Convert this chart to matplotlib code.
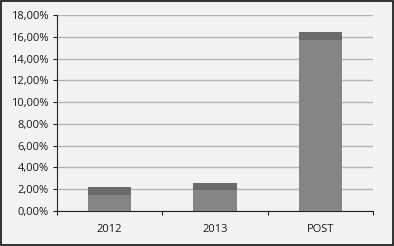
import matplotlib
matplotlib.use("Agg")
import matplotlib.pyplot as plt
from matplotlib.patches import Rectangle
from matplotlib.ticker import FuncFormatter

categories = ["2012", "2013", "POST"]
values = [2.2, 2.6, 16.4]
yticks = [0, 2, 4, 6, 8, 10, 12, 14, 16, 18]

plt.rcParams['font.family'] = ['Open Sans', 'DejaVu Sans']

fig = plt.figure(figsize=(3.94, 2.46), dpi=100, facecolor="#f3f3f3")
ax = fig.add_axes([57/394, 35/246, 316/394, 196/246])
ax.set_facecolor("#f3f3f3")

x = list(range(len(categories)))
ax.bar(x, values, width=0.41, color="#858585", zorder=3, linewidth=0)
# darker top face of each bar
for xi, v in zip(x, values):
    ax.add_patch(Rectangle((xi - 0.205, v - 0.7), 0.41, 0.7, color="#6b6b6b", zorder=4, linewidth=0))

ax.set_xlim(-0.5, 2.5)
ax.set_ylim(0, 18)
ax.set_yticks(yticks)
ax.yaxis.set_major_formatter(FuncFormatter(lambda v, p: f"{v:.2f}".replace(".", ",") + "%"))
ax.grid(axis="y", color="#b4b4b4", linewidth=1.0, zorder=0)
ax.set_axisbelow(True)

ax.set_xticks(x)
ax.set_xticklabels(categories)
ax.set_xticks([-0.5, 0.5, 1.5, 2.5], minor=True)
ax.tick_params(axis="x", which="major", length=0, pad=9, labelsize=8, colors="#1a1a1a")
ax.tick_params(axis="x", which="minor", length=3, color="#222222", width=0.8)
ax.tick_params(axis="y", length=3, width=0.8, color="#222222", labelsize=8, labelcolor="#1a1a1a", pad=3)

for s in ["top", "right"]:
    ax.spines[s].set_visible(False)
ax.spines["left"].set_color("#222222")
ax.spines["left"].set_linewidth(0.8)
ax.spines["bottom"].set_color("#222222")
ax.spines["bottom"].set_linewidth(0.8)

# outer border
fig.patches.append(Rectangle((0.002, 0.003), 0.995, 0.993, transform=fig.transFigure,
                             fill=False, edgecolor="#111111", linewidth=1.2))

fig.savefig("out.png", dpi=100, facecolor=fig.get_facecolor())
